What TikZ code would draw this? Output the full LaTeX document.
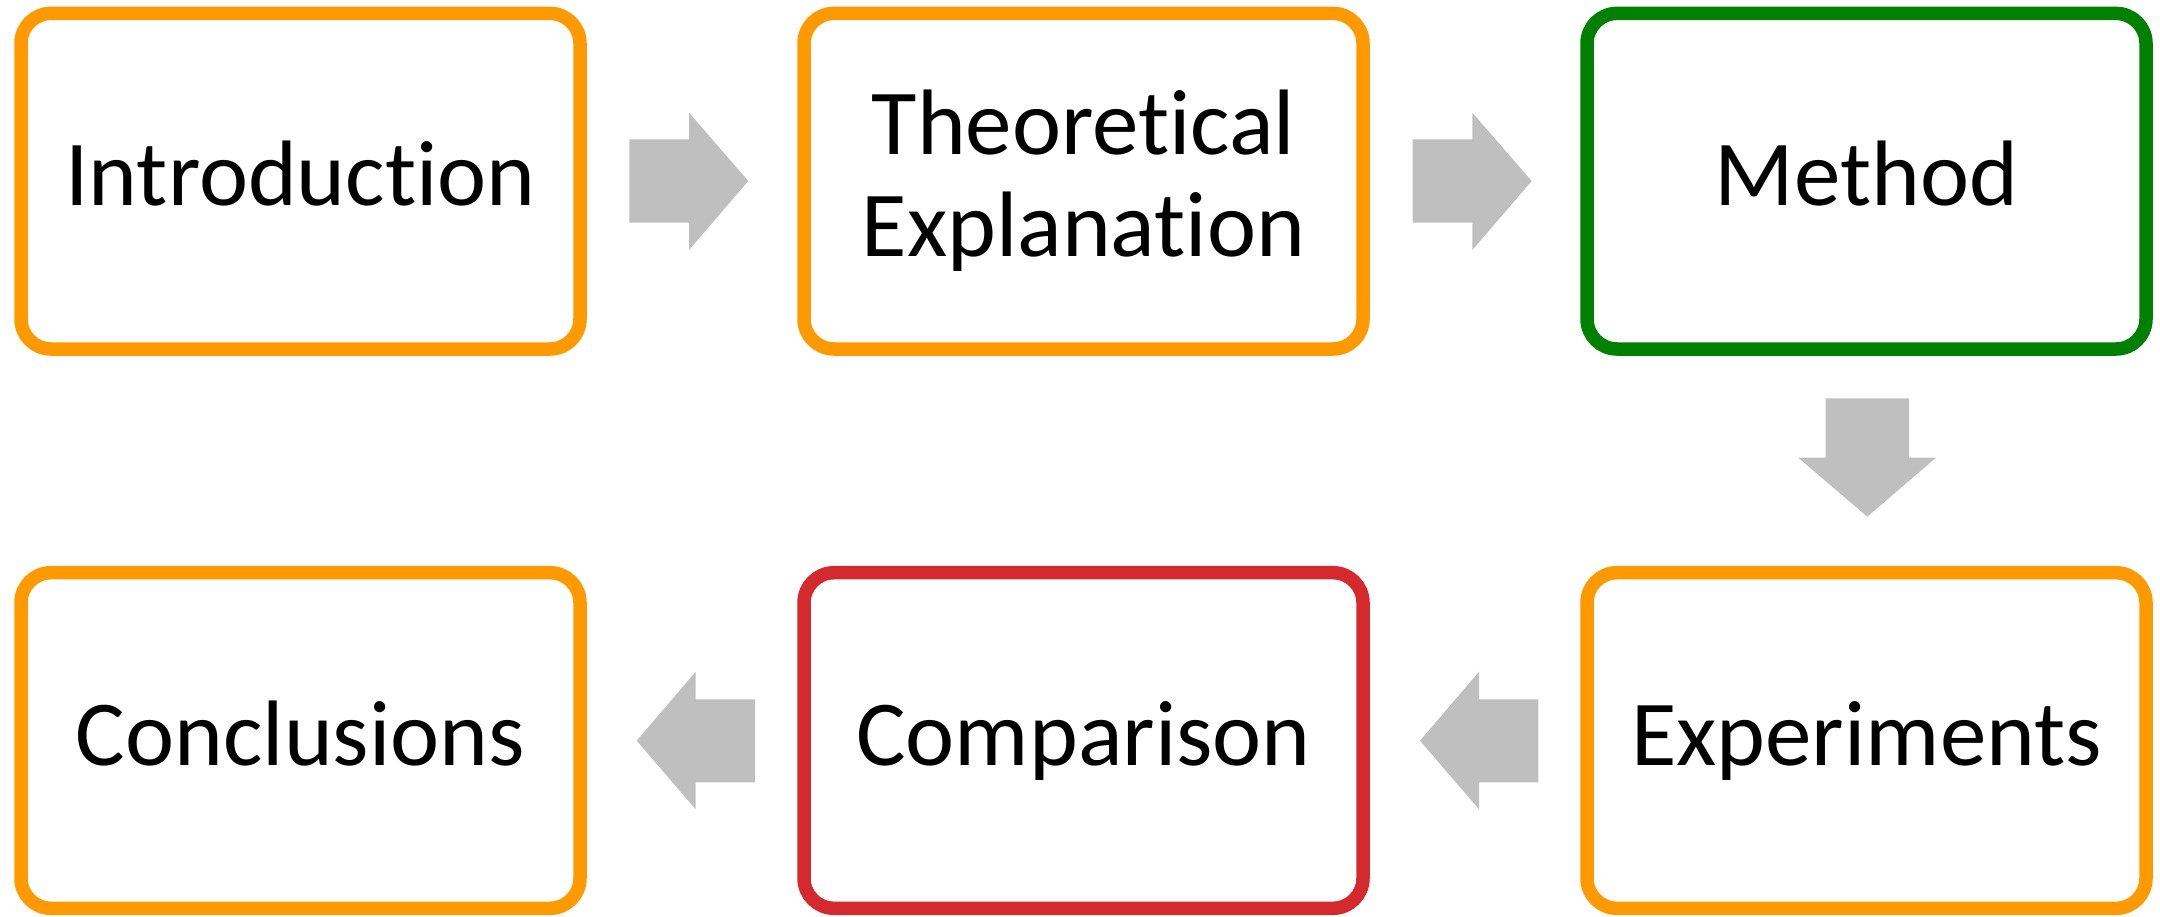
\documentclass[tikz,border=0pt]{standalone}
\usepackage{fontspec}
\setmainfont[Ligatures=NoCommon]{Carlito}
\definecolor{boxorange}{HTML}{FF9900}
\definecolor{boxgreen}{HTML}{008000}
\definecolor{boxred}{HTML}{D42A2E}
\definecolor{arrowgray}{HTML}{BFBFBF}
\begin{document}
\begin{tikzpicture}[x=1pt,y=-1pt,
  stagebox/.style={draw=#1, line width=13.5pt, rounded corners=30pt,
    minimum width=559pt, minimum height=335.6pt, inner sep=0pt,
    align=center, font=\fontsize{93}{102}\selectfont, fill=white},
  oneline/.style={text height=74pt, text depth=25pt},
  blockarrow/.style={fill=arrowgray}]
\useasboundingbox (0,0) rectangle (2160,916);
\node[stagebox=boxorange, oneline] (intro) at (300.5,181.2) {Introduction};
\node[stagebox=boxorange] (theory) at (1083.5,181.2) {Theoretical\\Explanation};
\node[stagebox=boxgreen, oneline] (method) at (1866.5,181.2) {Method};
\node[stagebox=boxorange, oneline] (exp) at (1866.5,740.5) {Experiments};
\node[stagebox=boxred, oneline] (comp) at (1083.5,740.5) {Comparison};
\node[stagebox=boxorange, oneline] (concl) at (300.5,740.5) {Conclusions};
% right arrows
\fill[blockarrow] (629.3,139.3) -- (689,139.3) -- (689,112.7) -- (748.3,181) -- (689,250) -- (689,222.7) -- (629.3,222.7) -- cycle;
\fill[blockarrow] (1412.7,139.3) -- (1472.3,139.3) -- (1472.3,112.7) -- (1531.7,181) -- (1472.3,250) -- (1472.3,222.7) -- (1412.7,222.7) -- cycle;
% down arrow
\fill[blockarrow] (1825.7,398.3) -- (1909,398.3) -- (1909,457.7) -- (1936,457.7) -- (1867.3,516.7) -- (1798.3,457.7) -- (1825.7,457.7) -- cycle;
% left arrows
\fill[blockarrow] (1538.3,699.3) -- (1479,699.3) -- (1479,671.7) -- (1420,740.7) -- (1479,809.3) -- (1479,782.3) -- (1538.3,782.3) -- cycle;
\fill[blockarrow] (755,699.3) -- (695.7,699.3) -- (695.7,671.7) -- (636.7,740.7) -- (695.7,809.3) -- (695.7,782.3) -- (755,782.3) -- cycle;
\end{tikzpicture}
\end{document}
